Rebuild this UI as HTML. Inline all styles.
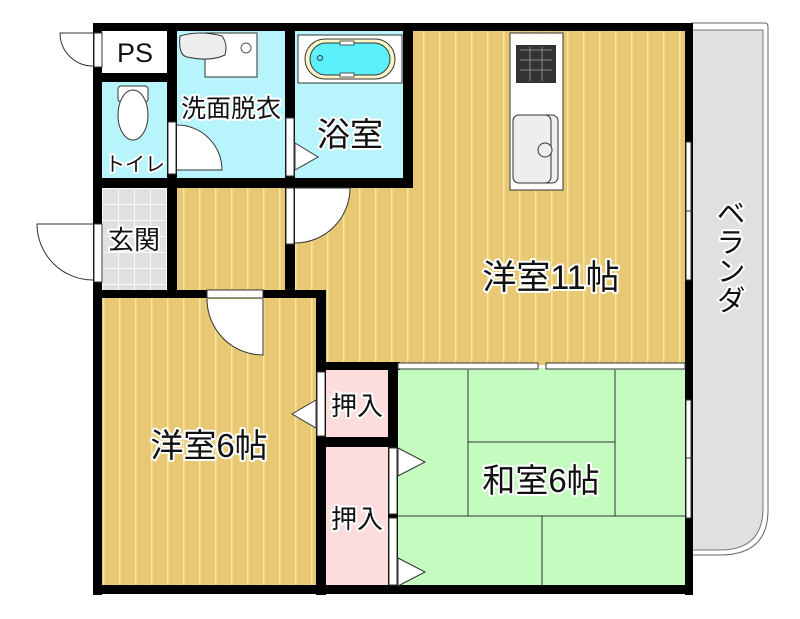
<!DOCTYPE html>
<html><head><meta charset="utf-8"><style>
html,body{margin:0;padding:0;background:#fff}
svg{display:block}
text{font-family:"Liberation Sans","Noto Sans CJK JP",sans-serif;fill:#111;stroke:#fff;stroke-width:4;paint-order:stroke;stroke-linejoin:round}
</style></head><body>
<svg width="800" height="619" viewBox="0 0 800 619" xmlns="http://www.w3.org/2000/svg">
<defs>
<pattern id="wood" width="16" height="10" patternUnits="userSpaceOnUse">
<rect width="16" height="10" fill="#e9c874"/><rect x="7" width="1.5" height="10" fill="#f8e6a8"/>
</pattern>
<pattern id="tile" width="16" height="16" patternUnits="userSpaceOnUse" x="102" y="188">
<rect width="16" height="16" fill="#e0e0e0"/><path d="M0 0.5H16M0.5 0V16" stroke="#fafafa" stroke-width="1"/>
</pattern>
</defs>
<path d="M692 23 H765 Q768 23 768 27 V510 Q768 555 720 555 H692 Z" fill="#fff" stroke="#666" stroke-width="1"/>
<path d="M692 30 H763 V508 Q763 550 720 550 H692 Z" fill="#e0e0e0" stroke="#777" stroke-width="1"/>
<rect x="295" y="30" width="392" height="335" fill="url(#wood)"/>
<rect x="177" y="188" width="110" height="104" fill="url(#wood)"/>
<rect x="100" y="297" width="218" height="290" fill="url(#wood)"/>
<rect x="102" y="30" width="66" height="46" fill="#fff"/>
<rect x="102" y="80" width="66" height="100" fill="#b8f4fc"/>
<rect x="175" y="30" width="112" height="150" fill="#b8f4fc"/>
<rect x="293" y="30" width="112" height="150" fill="#b8f4fc"/>
<rect x="102" y="188" width="66" height="102" fill="url(#tile)"/>
<rect x="324" y="368" width="66" height="72" fill="#fcdcdc"/>
<rect x="324" y="445" width="66" height="142" fill="#fcdcdc"/>
<rect x="396" y="368" width="291" height="218" fill="#c4fcc0"/>
<g stroke="#333" stroke-width="1" fill="none">
<path d="M468 370V516M615 370V516M468 442H615M396 516H687M542 516V586"/>
</g>
<rect x="205" y="33" width="52" height="44" fill="#fff" stroke="#333"/>
<circle cx="246" cy="48" r="5" fill="#fff" stroke="#555"/>
<path d="M180 36 Q178 55 187 57 Q210 62 225 55 Q228 44 222 36 Q200 30 180 36Z" fill="#eee" stroke="#333"/>
<rect x="298" y="35" width="104" height="48" fill="#fff" stroke="#333"/>
<rect x="305" y="39" width="90" height="40" rx="20" fill="#f8f6c8" stroke="#333"/>
<rect x="310" y="43" width="80" height="32" rx="16" fill="#5cf0fc" stroke="#333"/>
<circle cx="320" cy="58" r="2.5" fill="none" stroke="#333"/>
<rect x="340" y="41" width="14" height="4" fill="#fff" stroke="#333" stroke-width=".8"/>
<rect x="340" y="73" width="14" height="4" fill="#fff" stroke="#333" stroke-width=".8"/>
<rect x="118" y="86" width="30" height="16" rx="3" fill="#fff" stroke="#333"/>
<ellipse cx="133" cy="115" rx="15" ry="25" fill="#fff" stroke="#333"/>
<rect x="510" y="33" width="53" height="157" fill="#fff" stroke="#333"/>
<rect x="516" y="45" width="40" height="38" fill="#333"/>
<path d="M520 50h32M520 60h32M520 70h32M530 47v34M542 47v34" stroke="#888" stroke-width="1"/>
<rect x="513" y="115" width="45" height="68" rx="6" fill="#eee" stroke="#333"/>
<rect x="513" y="115" width="38" height="68" rx="6" fill="#eee" stroke="#333"/>
<circle cx="545" cy="150" r="7" fill="#eee" stroke="#333"/>
<g fill="#000">
<rect x="93" y="23" width="600" height="8"/>
<rect x="93" y="23" width="9" height="572"/>
<rect x="685" y="23" width="8" height="572"/>
<rect x="93" y="585" width="600" height="9"/>
<rect x="102" y="73" width="66" height="9"/>
<rect x="167" y="23" width="10" height="270"/>
<rect x="93" y="178" width="320" height="10"/>
<rect x="403" y="23" width="10" height="165"/>
<rect x="285" y="23" width="10" height="270"/>
<rect x="93" y="290" width="232" height="8"/>
<rect x="316" y="290" width="10" height="305"/>
<rect x="316" y="362" width="84" height="8"/>
<rect x="388" y="362" width="10" height="225"/>
<rect x="316" y="437" width="82" height="10"/>
</g>
<g fill="#fff" stroke="#333" stroke-width="1">
<rect x="94" y="33" width="8" height="34"/>
<rect x="94" y="224" width="8" height="58"/>
<rect x="168" y="122" width="8" height="52" />
<rect x="286" y="118" width="8" height="58"/>
<rect x="286" y="188" width="8" height="56"/>
<rect x="207" y="290" width="56" height="8"/>
<rect x="317" y="372" width="8" height="64"/>
<rect x="389" y="448" width="8" height="66"/>
<rect x="389" y="518" width="8" height="67"/>
<rect x="398" y="363" width="140" height="6"/>
<rect x="546" y="363" width="139" height="6"/>
<rect x="686" y="142" width="5" height="138"/>
<rect x="686" y="400" width="5" height="118"/>
<path d="M93 33 H60 A33 33 0 0 0 93 66" />
<path d="M93 224 H37 A56 56 0 0 0 93 280"/>
<path d="M177 170 H222 A45 45 0 0 0 177 125"/>
<path d="M295 188 H350 A55 55 0 0 1 295 243"/>
<path d="M263 299 V355 A56 56 0 0 1 207 299"/>
<path d="M295 143 L318 157 L295 170Z"/>
<path d="M316 400 L292 414 L316 428Z"/>
<path d="M398 448 L425 462 L398 476Z"/>
<path d="M398 558 L425 572 L398 586Z"/>
</g>
<path d="M686 211h7M686 458h7" stroke="#333"/>
<text x="135" y="62" font-size="27" text-anchor="middle">PS</text>
<text x="135" y="171" font-size="20" text-anchor="middle">トイレ</text>
<text x="231" y="117" font-size="25" text-anchor="middle">洗面脱衣</text>
<text x="350" y="146" font-size="33" text-anchor="middle">浴室</text>
<text x="134" y="249" font-size="26" text-anchor="middle">玄関</text>
<text x="551" y="289" font-size="34" text-anchor="middle">洋室11帖</text>
<text x="209" y="457" font-size="33" text-anchor="middle">洋室6帖</text>
<text x="541" y="492" font-size="33" text-anchor="middle">和室6帖</text>
<text x="357" y="415" font-size="26" text-anchor="middle">押入</text>
<text x="357" y="528" font-size="26" text-anchor="middle">押入</text>
<text x="728" y="198" font-size="29" text-anchor="start" style="writing-mode:vertical-rl">ベランダ</text>
</svg>
</body></html>
